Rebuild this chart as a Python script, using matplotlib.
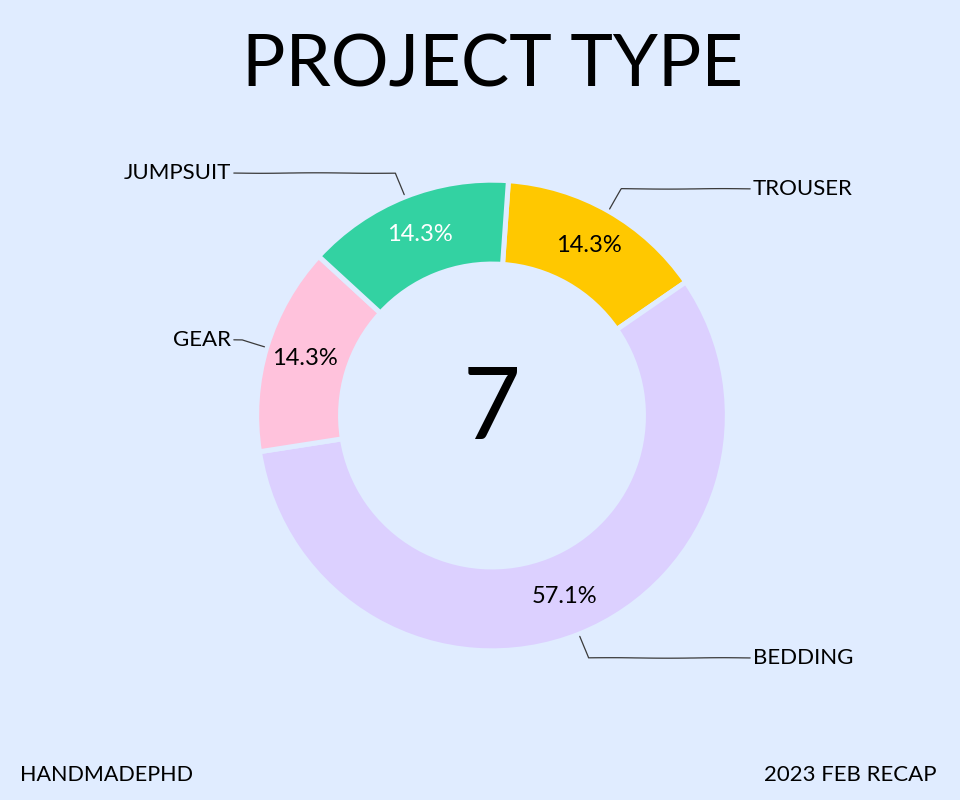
import numpy as np
import matplotlib as mpl
mpl.use('Agg')
import matplotlib.pyplot as plt

# data
labels = ['TROUSER', 'BEDDING', 'GEAR', 'JUMPSUIT']
counts = [1, 4, 1, 1]
colors = ['#ffc800', '#dcd0ff', '#ffc2dc', '#33d2a2']
pct_colors = ['black', 'black', 'black', 'white']
title = 'PROJECT TYPE'
footer_left = 'HANDMADEPHD'
footer_right = '2023 FEB RECAP'

bg = '#e0ecff'
font = ['Lato', 'DejaVu Sans']
plt.rcParams['font.family'] = font

fig = plt.figure(figsize=(9.6, 8), dpi=100, facecolor=bg)
ax = fig.add_axes([0, 0, 1, 1])
ax.set_facecolor(bg)
ax.axis('off')

# 1 data unit = 233 px, donut centre at (492, 415) px from top-left
r_px = 233.0
cx, cy = 492.0, 800 - 415.5

wedges, texts, autotexts = ax.pie(
    counts, colors=colors, startangle=86, counterclock=False,
    radius=1.01, autopct='%1.1f%%', pctdistance=0.83,
    wedgeprops=dict(width=0.36, edgecolor=bg, linewidth=3.6),
    textprops=dict(fontsize=17))
ax.set_xlim(-cx / r_px, (960 - cx) / r_px)
ax.set_ylim(-cy / r_px, (800 - cy) / r_px)
ax.set_aspect('equal')

for t, c in zip(autotexts, pct_colors):
    t.set_color(c)

for i, w in enumerate(wedges):
    ang = (w.theta2 - w.theta1) / 2. + w.theta1
    y = np.sin(np.deg2rad(ang))
    x = np.cos(np.deg2rad(ang))
    ha = 'right' if x < 0 else 'left'
    ann = ax.annotate(labels[i], xy=(1.02 * x, 1.02 * y),
                      xytext=(1.12 * np.sign(x), 1.12 * y),
                      ha=ha, va='center', fontsize=16,
                      arrowprops=dict(arrowstyle='-', color='#3a3a3a', lw=0.9,
                                      shrinkA=0, shrinkB=0,
                                      connectionstyle='angle,angleA=0,angleB={}'.format(ang)))
    ann.arrow_patch.set_sketch_params(0.25, 120, 2)

ax.text(0, 0.02, str(sum(counts)), ha='center', va='center', fontsize=72)

fig.text(0.513, 1 - 66 / 800, title, ha='center', va='center', fontsize=52)
fig.text(20 / 960, 1 - 775 / 800, footer_left, ha='left', va='center', fontsize=15.5)
fig.text(936 / 960, 1 - 775 / 800, footer_right, ha='right', va='center', fontsize=16)

plt.savefig('out.png', dpi=100, facecolor=bg)
plt.close()
